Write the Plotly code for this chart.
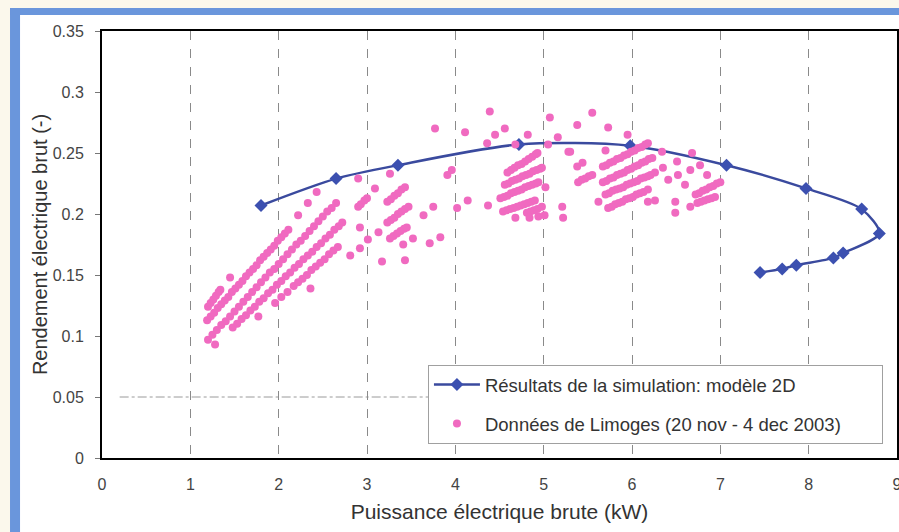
import plotly.graph_objects as go

# ---------------- data ----------------
sim_x = [1.80, 2.65, 3.35, 4.72, 5.98, 7.07, 7.97, 8.60, 8.80, 8.39, 8.28, 7.86, 7.70, 7.45]
sim_y = [0.207, 0.229, 0.240, 0.257, 0.256, 0.240, 0.221, 0.204, 0.184, 0.168, 0.164, 0.158, 0.155, 0.152]

# Limoges measurements, cluster around 1.2 - 2.7 kW
lim1_x = [1.19, 1.23, 1.27, 1.31, 1.35, 1.39, 1.43, 1.47, 1.51, 1.55, 1.59, 1.63, 1.67, 1.71, 1.75, 1.79,
          1.83, 1.87, 1.91, 1.95, 1.99, 2.03, 2.07, 2.11, 2.22, 2.33, 2.43,
          1.20, 1.25, 1.30, 1.35, 1.40, 1.45, 1.50, 1.55, 1.60, 1.65, 1.70, 1.75, 1.80, 1.85, 1.90,
          1.95, 2.00, 2.05, 2.10, 2.15, 2.20, 2.25, 2.30, 2.35, 2.40, 2.45, 2.50, 2.55, 2.60, 2.65,
          1.48, 1.53, 1.58, 1.63, 1.68, 1.73, 1.78, 1.83, 1.88, 1.93, 1.98, 2.03, 2.08, 2.13, 2.18,
          2.23, 2.28, 2.33, 2.38, 2.43, 2.48, 2.53, 2.58, 2.63, 2.68, 2.72,
          1.96, 2.03, 2.10, 2.17, 2.22, 2.27, 2.32, 2.37, 2.42, 2.47, 2.52, 2.57, 2.62, 2.67,
          1.20, 1.23, 1.26, 1.29, 1.32, 1.34,
          1.45, 1.77, 1.28, 2.36, 2.90, 3.09, 3.26]
lim1_y = [0.113, 0.116, 0.119, 0.123, 0.126, 0.129, 0.132, 0.136, 0.139, 0.142, 0.145, 0.149, 0.152, 0.155, 0.158, 0.162,
          0.165, 0.168, 0.171, 0.174, 0.178, 0.181, 0.184, 0.187, 0.199, 0.209, 0.218,
          0.097, 0.101, 0.105, 0.109, 0.112, 0.116, 0.120, 0.124, 0.128, 0.132, 0.136, 0.140, 0.144, 0.148, 0.152,
          0.155, 0.159, 0.163, 0.167, 0.171, 0.175, 0.178, 0.182, 0.186, 0.190, 0.194, 0.198, 0.202, 0.205, 0.209,
          0.107, 0.110, 0.114, 0.117, 0.121, 0.124, 0.128, 0.131, 0.135, 0.138, 0.142, 0.145, 0.149, 0.152, 0.156,
          0.159, 0.163, 0.166, 0.169, 0.173, 0.176, 0.180, 0.183, 0.187, 0.190, 0.193,
          0.127, 0.132, 0.136, 0.141, 0.144, 0.147, 0.150, 0.154, 0.157, 0.160, 0.163, 0.167, 0.170, 0.173,
          0.124, 0.127, 0.130, 0.133, 0.136, 0.138,
          0.148, 0.116, 0.093, 0.139, 0.229, 0.221, 0.233]

# cluster around 2.8 - 4.4 kW
lim2_x = [2.90, 2.93, 2.97, 3.00,
          3.23, 3.27, 3.31, 3.35, 3.39, 3.43,
          3.23, 3.27, 3.31, 3.35, 3.39, 3.43, 3.47,
          3.26, 3.30, 3.34, 3.38, 3.42, 3.45,
          2.92, 3.41, 3.52, 3.43, 3.17, 3.64, 3.75, 3.71, 3.83, 3.91, 3.96, 3.77, 4.11, 4.02, 4.14, 4.37,
          2.81, 2.92, 3.01, 3.13]
lim2_y = [0.206, 0.208, 0.211, 0.213,
          0.210, 0.212, 0.215, 0.217, 0.220, 0.222,
          0.193, 0.195, 0.197, 0.200, 0.202, 0.204, 0.206,
          0.180, 0.182, 0.184, 0.186, 0.188, 0.189,
          0.189, 0.175, 0.180, 0.162, 0.161, 0.199, 0.206, 0.176, 0.181, 0.232, 0.236, 0.270, 0.267, 0.205, 0.211, 0.207,
          0.166, 0.172, 0.179, 0.185]

# cluster around 4.4 - 5.6 kW
lim3_x = [4.59, 4.63, 4.67, 4.71, 4.75, 4.79, 4.83, 4.87, 4.91, 4.93,
          4.56, 4.60, 4.64, 4.68, 4.72, 4.76, 4.80, 4.84, 4.88, 4.92, 4.96, 4.98,
          4.51, 4.55, 4.59, 4.63, 4.67, 4.71, 4.75, 4.79, 4.83, 4.87, 4.91, 4.94,
          4.54, 4.58, 4.62, 4.66, 4.70, 4.74, 4.78, 4.82, 4.86, 4.90,
          4.81, 4.85, 4.89, 4.93, 4.98,
          4.39, 4.45, 4.56, 4.36, 4.82, 5.07, 5.38, 5.55, 5.16, 5.05, 5.28, 4.68,
          5.02, 5.21, 5.22, 4.84, 4.94, 5.01, 4.68, 5.38, 5.44, 5.30,
          5.39, 5.43, 5.47, 5.51, 5.55]
lim3_y = [0.234, 0.236, 0.238, 0.240, 0.241, 0.243, 0.245, 0.247, 0.249, 0.250,
          0.224, 0.225, 0.227, 0.228, 0.229, 0.231, 0.232, 0.233, 0.235, 0.236, 0.237, 0.238,
          0.213, 0.214, 0.215, 0.217, 0.218, 0.219, 0.220, 0.222, 0.223, 0.224, 0.225, 0.226,
          0.202, 0.203, 0.204, 0.205, 0.206, 0.207, 0.208, 0.209, 0.210, 0.211,
          0.201, 0.202, 0.203, 0.204, 0.206,
          0.284, 0.265, 0.270, 0.258, 0.265, 0.279, 0.273, 0.283, 0.263, 0.257, 0.251, 0.257,
          0.222, 0.206, 0.197, 0.197, 0.198, 0.199, 0.197, 0.239, 0.242, 0.251,
          0.226, 0.228, 0.229, 0.231, 0.232]

# cluster around 5.6 - 7.0 kW
lim4_x = [5.67, 5.71, 5.75, 5.79, 5.83, 5.87, 5.91, 5.95, 5.99, 6.03, 6.07, 6.11, 6.15, 6.18,
          5.67, 5.71, 5.75, 5.79, 5.83, 5.87, 5.91, 5.95, 5.99, 6.03, 6.07, 6.11, 6.15, 6.19, 6.23,
          5.70, 5.74, 5.78, 5.82, 5.86, 5.90, 5.94, 5.98, 6.02, 6.06, 6.10, 6.14, 6.18, 6.21,
          5.73, 5.77, 5.81, 5.85, 5.89, 5.93, 5.97, 6.01, 6.05, 6.09, 6.13, 6.18,
          5.73, 5.95, 5.70, 5.62, 6.18, 6.26, 6.26, 6.35, 6.41, 6.34, 6.51, 6.52, 6.60, 6.49, 6.49,
          6.66, 6.68, 6.66, 6.77, 6.85,
          6.72, 6.76, 6.80, 6.84, 6.88, 6.92, 6.96, 7.00,
          6.74, 6.78, 6.82, 6.86, 6.90, 6.94]
lim4_y = [0.239, 0.240, 0.242, 0.243, 0.245, 0.246, 0.248, 0.249, 0.251, 0.252, 0.254, 0.255, 0.257, 0.258,
          0.226, 0.227, 0.229, 0.230, 0.232, 0.233, 0.234, 0.236, 0.237, 0.239, 0.240, 0.242, 0.243, 0.245, 0.246,
          0.216, 0.217, 0.219, 0.220, 0.221, 0.222, 0.224, 0.225, 0.226, 0.227, 0.229, 0.230, 0.231, 0.232,
          0.205, 0.206, 0.208, 0.209, 0.210, 0.212, 0.213, 0.214, 0.216, 0.217, 0.218, 0.220,
          0.271, 0.265, 0.252, 0.210, 0.210, 0.211, 0.234, 0.238, 0.228, 0.251, 0.243, 0.232, 0.224, 0.210, 0.201,
          0.236, 0.250, 0.206, 0.240, 0.232,
          0.216, 0.217, 0.219, 0.220, 0.222, 0.223, 0.225, 0.226,
          0.209, 0.210, 0.211, 0.212, 0.213, 0.214]

lim_x = lim1_x + lim2_x + lim3_x + lim4_x
lim_y = lim1_y + lim2_y + lim3_y + lim4_y

x_ticks = [0, 1, 2, 3, 4, 5, 6, 7, 8, 9]
y_ticks = [0, 0.05, 0.1, 0.15, 0.2, 0.25, 0.3, 0.35]
y_ticktext = ["0", "0.05", "0.1", "0.15", "0.2", "0.25", "0.3", "0.35"]

sim_name = "Résultats de la simulation: modèle 2D"
lim_name = "Données de Limoges (20 nov - 4 dec 2003)"

# ---------------- figure ----------------
FONT = "Liberation Sans, Arial, Helvetica, sans-serif"
PAD = "\u00a0" * 7  # extra room on the right of the legend box
fig = go.Figure()

fig.add_trace(go.Scatter(
    x=sim_x, y=sim_y, mode="lines+markers", name=sim_name, legendgroup="a",
    line=dict(color="#3a4a9e", width=2.5, shape="spline", smoothing=0.8),
    marker=dict(symbol="diamond", size=10, color="#3c50b0"),
))
fig.add_trace(go.Scatter(
    x=lim_x, y=lim_y, mode="markers", name=lim_name + PAD, legendgroup="b",
    marker=dict(symbol="circle", size=8, color="#f06ac0", line=dict(width=0)),
))

fig.update_layout(
    width=899, height=532,
    margin=dict(l=102, r=2, t=31, b=74, autoexpand=False),
    paper_bgcolor="white", plot_bgcolor="white",
    font=dict(family=FONT, size=15, color="#333333"),
    showlegend=True,
    legend=dict(
        x=0.41, y=0.218, xanchor="left", yanchor="top",
        bgcolor="white", bordercolor="#a0a0a0", borderwidth=1,
        font=dict(size=18.5, color="#333333"),
        traceorder="grouped", tracegroupgap=12, itemwidth=46,
    ),
    xaxis=dict(
        range=[0, 9], tickvals=x_ticks, ticktext=[str(v) for v in x_ticks],
        showgrid=True, gridcolor="#8a8a8a", griddash="dash", gridwidth=1,
        showline=True, linecolor="black", linewidth=2, mirror=True,
        ticks="", ticklabelstandoff=11, zeroline=False, automargin=False,
        ticklabeloverflow="allow",
        tickfont=dict(size=16, color="#444444"),
        title=dict(text="Puissance électrique brute (kW)", font=dict(size=21, color="#333333"), standoff=12),
    ),
    yaxis=dict(
        range=[0, 0.35], tickvals=y_ticks, ticktext=y_ticktext,
        showgrid=False,
        showline=True, linecolor="black", linewidth=2, mirror=True,
        ticks="outside", ticklen=5, tickcolor="#777777", ticklabelstandoff=8, zeroline=False,
        automargin=False,
        tickfont=dict(size=16, color="#444444"),
        title=dict(text="Rendement électrique brut (-)", font=dict(size=20, color="#333333"), standoff=0),
    ),
)

# partial dashed reference line at 0.05 and scanned page frame
fig.add_shape(type="line", xref="x", yref="y", x0=0.2, x1=3.7, y0=0.05, y1=0.05,
              line=dict(color="#9a9a9a", width=1, dash="dashdot"), layer="below")
frame = "#6a96dc"
fig.add_shape(type="rect", xref="paper", yref="paper", x0=-0.13, x1=1.01, y0=1.054, y1=1.08,
              fillcolor="#fbf8ec", line=dict(width=0))
fig.add_shape(type="rect", xref="paper", yref="paper", x0=-0.13, x1=-0.1157, y0=-0.18, y1=1.08,
              fillcolor="#fbf8ec", line=dict(width=0))
fig.add_shape(type="rect", xref="paper", yref="paper", x0=-0.1157, x1=1.01, y0=1.0375, y1=1.054,
              fillcolor=frame, line=dict(width=0))
fig.add_shape(type="rect", xref="paper", yref="paper", x0=-0.1157, x1=-0.1031, y0=-0.18, y1=1.054,
              fillcolor=frame, line=dict(width=0))

# remove the default 8 px page margin so the 899x532 figure fills the window exactly
fig.write_html("out.html",
               config={"displayModeBar": False},
               post_script="document.body.style.margin='0';document.body.style.overflow='hidden';")
